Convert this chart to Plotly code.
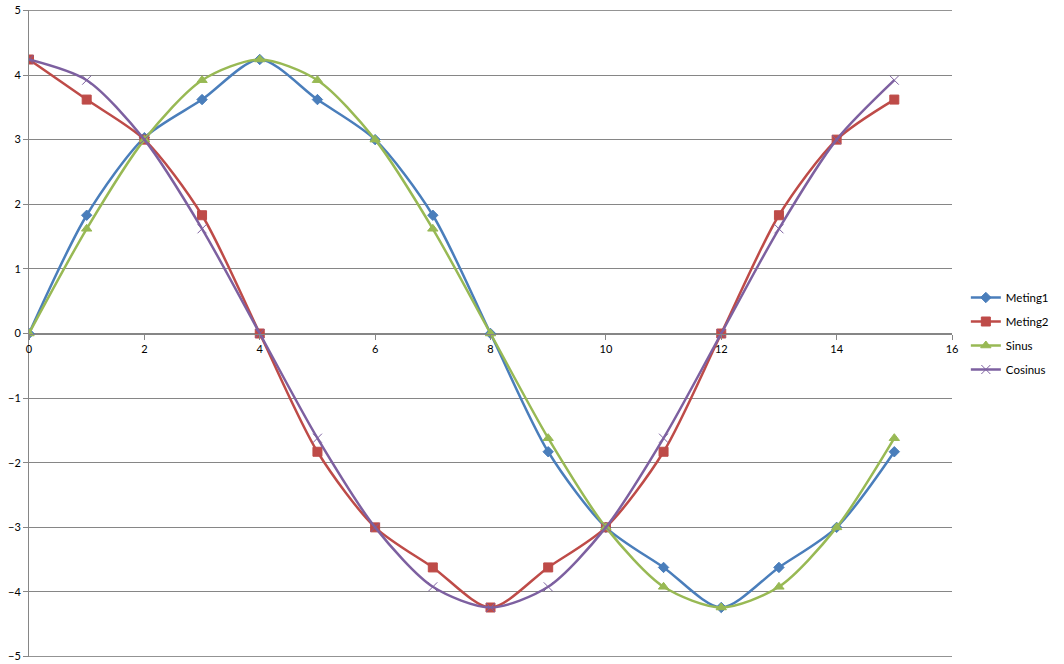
import plotly.graph_objects as go

x_vals = list(range(16))
meting1 = [0, 1.83, 3.03, 3.62, 4.24, 3.62, 3.0, 1.83, 0, -1.83, -3.0, -3.62, -4.24, -3.62, -3.0, -1.83]
meting2 = [4.24, 3.62, 3.0, 1.83, 0, -1.83, -3.0, -3.62, -4.24, -3.62, -3.0, -1.83, 0, 1.83, 3.0, 3.62]
sinus = [0, 1.62, 3.0, 3.92, 4.24, 3.92, 3.0, 1.62, 0, -1.62, -3.0, -3.92, -4.24, -3.92, -3.0, -1.62]
cosinus = [4.24, 3.92, 3.0, 1.62, 0, -1.62, -3.0, -3.92, -4.24, -3.92, -3.0, -1.62, 0, 1.62, 3.0, 3.92]
y_min, y_max = -5, 5

series = [
    ("Meting1", meting1, "#4A7EBB", "diamond", 8),
    ("Meting2", meting2, "#BE4B48", "square", 9),
    ("Sinus", sinus, "#98B954", "triangle-up", 9),
    ("Cosinus", cosinus, "#7D60A0", "x-thin", 9),
]

fig = go.Figure()
for name, vals, col, sym, sz in series:
    fig.add_trace(go.Scatter(
        x=x_vals, y=vals, name=name, mode="lines+markers", legendgroup=name,
        line=dict(color=col, width=2.5, shape="spline", smoothing=0.8),
        marker=dict(symbol=sym, size=sz, color=col, line=dict(color=col, width=1)),
    ))

# edge gridlines at the y-range limits
for yv in (y_min, y_max):
    fig.add_shape(type="line", xref="paper", yref="y", x0=0, x1=1, y0=yv, y1=yv,
                  line=dict(color="#868686", width=1), layer="below")

fig.update_layout(
    width=1064, height=664,
    margin=dict(l=29, r=112, t=10, b=7, autoexpand=False),
    plot_bgcolor="white", paper_bgcolor="white",
    font=dict(family="Lato, Liberation Sans, sans-serif", size=11, color="black"),
    legend=dict(x=1.015, y=0.5, yanchor="middle", xanchor="left",
                font=dict(size=11.5), tracegroupgap=5, itemwidth=30),
    showlegend=True,
)
fig.update_xaxes(
    range=[0, 16], tickvals=list(range(0, 17, 2)), showgrid=False,
    showline=True, linecolor="#868686", linewidth=1,
    ticks="outside", ticklen=5, tickcolor="#868686",
    anchor="free", position=0.5, zeroline=False, automargin=False,
    ticklabeloverflow="allow",
)
fig.update_yaxes(
    range=[y_min - 0.006, y_max + 0.006], tickvals=list(range(y_min, y_max + 1)), showgrid=True,
    gridcolor="#868686", gridwidth=1,
    showline=True, linecolor="#868686", linewidth=1,
    ticks="outside", ticklen=5, tickcolor="#868686", zeroline=False, automargin=False,
    ticklabeloverflow="allow",
)
fig.write_html(
    "out.html",
    config={"displayModeBar": False},
    post_script="document.body.style.margin='0';document.body.style.overflow='hidden';",
)
